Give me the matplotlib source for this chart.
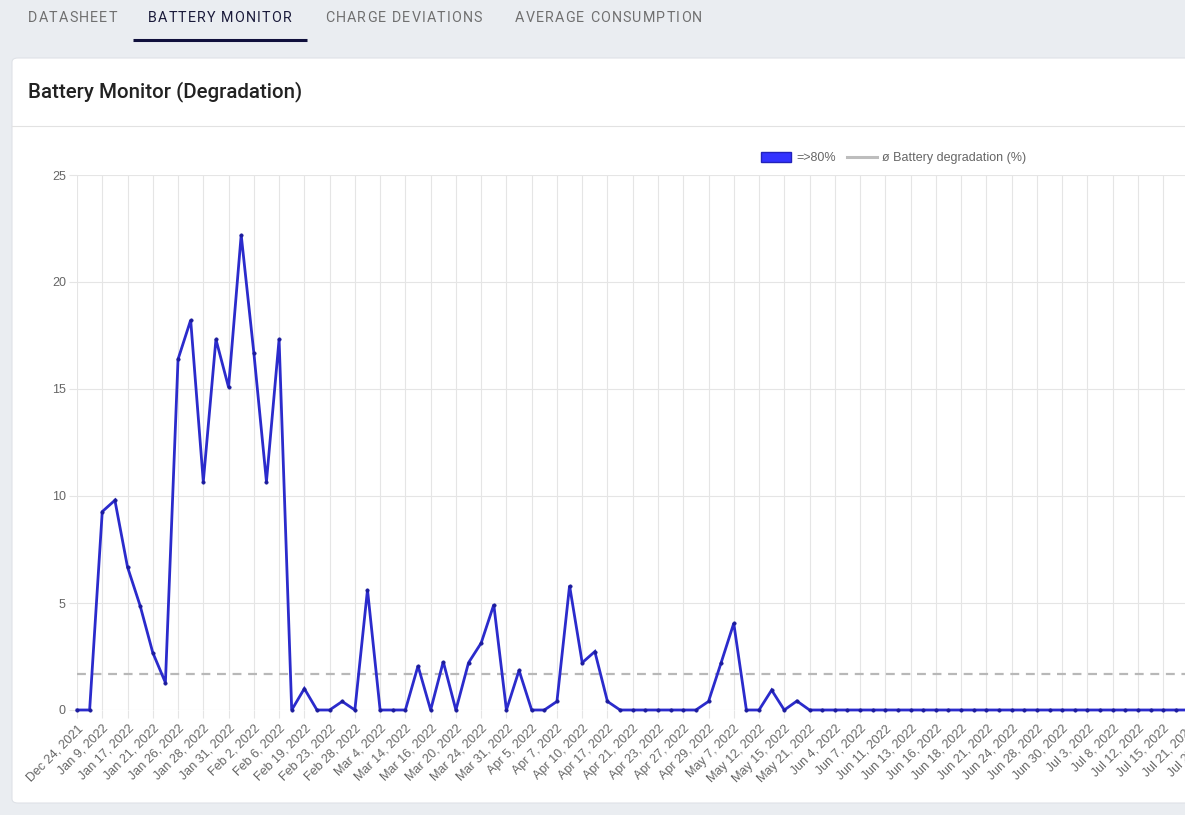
import matplotlib
matplotlib.use("Agg")
import matplotlib.pyplot as plt
from matplotlib.patches import FancyBboxPatch, Patch
from matplotlib.lines import Line2D

# --- data ---
tabs = ["DATASHEET", "BATTERY MONITOR", "CHARGE DEVIATIONS", "AVERAGE CONSUMPTION"]
tab_x = [28, 148, 325, 515]

tick_labels = [
    "Dec 24, 2021", "Jan 9, 2022", "Jan 17, 2022", "Jan 21, 2022", "Jan 26, 2022",
    "Jan 28, 2022", "Jan 31, 2022", "Feb 2, 2022", "Feb 6, 2022", "Feb 19, 2022",
    "Feb 23, 2022", "Feb 28, 2022", "Mar 4, 2022", "Mar 14, 2022", "Mar 16, 2022",
    "Mar 20, 2022", "Mar 24, 2022", "Mar 31, 2022", "Apr 5, 2022", "Apr 7, 2022",
    "Apr 10, 2022", "Apr 17, 2022", "Apr 21, 2022", "Apr 23, 2022", "Apr 27, 2022",
    "Apr 29, 2022", "May 7, 2022", "May 12, 2022", "May 15, 2022", "May 21, 2022",
    "Jun 4, 2022", "Jun 7, 2022", "Jun 11, 2022", "Jun 13, 2022", "Jun 16, 2022",
    "Jun 18, 2022", "Jun 21, 2022", "Jun 24, 2022", "Jun 28, 2022", "Jun 30, 2022",
    "Jul 3, 2022", "Jul 8, 2022", "Jul 12, 2022", "Jul 15, 2022", "Jul 21, 2022",
    "Jul 25, 2022",
]

# one point per half tick (chart.js skips every other label)
degradation = [
    0, 0, 9.27, 9.8, 6.68, 4.87, 2.68, 1.28, 16.39, 18.22,
    10.67, 17.32, 15.08, 22.2, 16.7, 10.67, 17.32, 0, 1.0, 0,
    0, 0.4, 0, 5.62, 0, 0, 0, 2.06, 0, 2.26,
    0, 2.21, 3.13, 4.92, 0, 1.85, 0, 0, 0.4, 5.81,
    2.21, 2.73, 0.4, 0, 0, 0, 0, 0, 0, 0,
    0.4, 2.21, 4.05, 0, 0, 0.93, 0, 0.42, 0, 0,
    0, 0, 0, 0, 0, 0, 0, 0, 0, 0,
    0, 0, 0, 0, 0, 0, 0, 0, 0, 0,
    0, 0, 0, 0, 0, 0, 0, 0, 0, 0,
    0, 0,
]
avg_degradation = 1.68

W, H = 1185, 815
fig = plt.figure(figsize=(W / 100, H / 100), dpi=100, facecolor="#eaedf1")
renderer = fig.canvas.get_renderer()


def spaced_text(x_px, y_px, s, spacing_px, **kw):
    # draw text char by char to mimic css letter-spacing
    for ch in s:
        t = fig.text(x_px / W, y_px / H, ch, **kw)
        w = t.get_window_extent(renderer).width
        x_px += w + spacing_px


# card
card = FancyBboxPatch((12 / W, 12 / H), 1300 / W, 745 / H,
                      boxstyle="round,pad=0,rounding_size=0.005",
                      transform=fig.transFigure, fc="white", ec="#dfe2e7", lw=0.8,
                      zorder=-10)
fig.patches.append(card)
fig.add_artist(Line2D([12 / W, 1.0], [(H - 126) / H] * 2, transform=fig.transFigure,
                      color="#e2e2e2", lw=0.8, zorder=-9))

# tabs
for name, x in zip(tabs, tab_x):
    active = name == "BATTERY MONITOR"
    spaced_text(x, H - 18, name, 1.15, family="Roboto", fontsize=10.3,
                color="#1a1a3a" if active else "#707070", va="center", ha="left")
fig.add_artist(Line2D([133 / W, 307 / W], [(H - 40) / H] * 2, transform=fig.transFigure,
                      color="#10103c", lw=2.2, solid_capstyle="butt"))

fig.text(28 / W, (H - 92) / H, "Battery Monitor (Degradation)", family="Roboto",
         fontsize=14.8, fontweight=500, color="#222222", va="center", ha="left")

# chart
x = list(range(len(degradation)))
ax = fig.add_axes([77 / W, 105 / H, 91 * 12.63 / W, 535 / H])
ax.set_facecolor("none")
ax.axhline(avg_degradation, color="#b8b8b8", lw=1.6, ls=(0, (4, 3)), zorder=2)
ax.plot(x, degradation, color="#2b2bcc", lw=2, marker="o", markersize=2.4,
        markerfacecolor="#1c1c9c", markeredgecolor="#1c1c9c", markeredgewidth=0.5,
        solid_joinstyle="miter", zorder=3, clip_on=False)

ax.set_xlim(0, len(degradation) - 1)
ax.set_ylim(0, 25)
ax.set_yticks([0, 5, 10, 15, 20, 25])
ax.set_xticks(x[::2])
ax.set_xticklabels(tick_labels, rotation=45, ha="right", rotation_mode="anchor")
ax.grid(True, color="#e5e5e5", lw=0.8, zorder=0)
ax.set_axisbelow(True)
for s in ax.spines.values():
    s.set_visible(False)
ax.tick_params(axis="both", length=6, color="#e5e5e5", width=0.8,
               labelsize=9, labelcolor="#666666")
ax.tick_params(axis="x", pad=3)
ax.tick_params(axis="y", pad=2)
for lbl in ax.get_xticklabels() + ax.get_yticklabels():
    lbl.set_family("Liberation Sans")

handles = [Patch(facecolor="#3333ff", edgecolor="#2222bb", lw=1),
           Line2D([], [], color="#bdbdbd", lw=2.2)]
fig.legend(handles, ["=>80%", "ø Battery degradation (%)"], loc="center left",
           bbox_to_anchor=(750 / W, (H - 158) / H), ncol=2, frameon=False,
           prop={"family": "Liberation Sans", "size": 9}, labelcolor="#666666",
           handlelength=2.4, handleheight=0.9, handletextpad=0.45, columnspacing=0.8)

fig.savefig("out.png", dpi=100, facecolor=fig.get_facecolor())
